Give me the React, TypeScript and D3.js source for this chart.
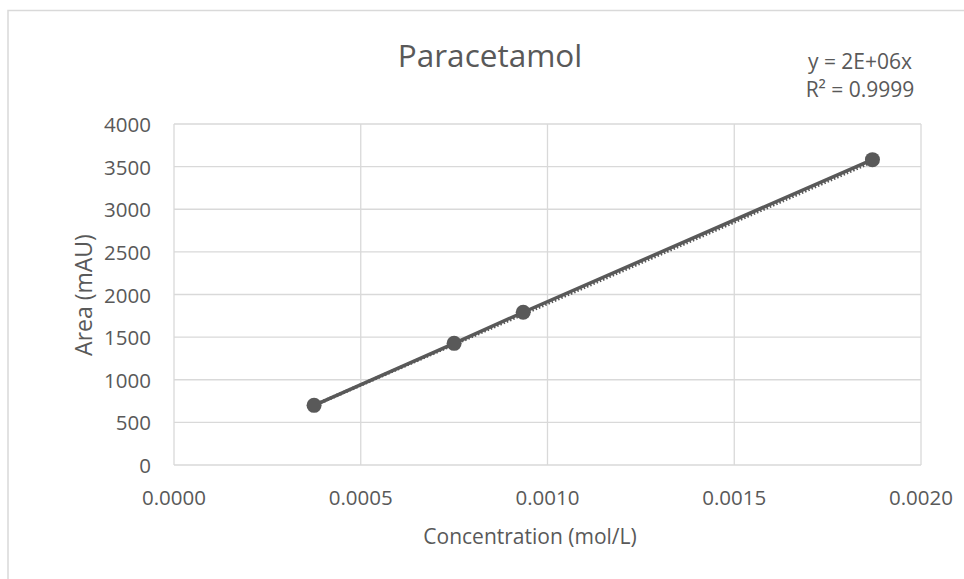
import React from "react";
import * as d3 from "d3";

const concentrations = [0.000375, 0.00075, 0.000935, 0.00187];
const areas = [700, 1427, 1792, 3582];
const xTicks = [0, 0.0005, 0.001, 0.0015, 0.002];
const yTicks = [0, 500, 1000, 1500, 2000, 2500, 3000, 3500, 4000];
const title = "Paracetamol";
const xTitle = "Concentration (mol/L)";
const yTitle = "Area (mAU)";
const eqLine1 = "y = 2E+06x";
const eqLine2 = "R² = 0.9999";

const W = 964;
const H = 579;
const font = "'Open Sans', sans-serif";
const textColor = "#595959";
const gridColor = "#d9d9d9";

export default function App() {
  const x = d3.scaleLinear().domain([0, 0.002]).range([174, 921]);
  const y = d3.scaleLinear().domain([0, 4000]).range([465, 124]);

  const pts = concentrations.map((c, i) => [c, areas[i]] as [number, number]);
  // least-squares slope through origin for the trendline
  const slope =
    d3.sum(pts, (p) => p[0] * p[1]) / d3.sum(pts, (p) => p[0] * p[0]);
  const xMin = d3.min(concentrations) as number;
  const xMax = d3.max(concentrations) as number;
  const trend: [number, number][] = [
    [xMin, slope * xMin],
    [xMax, slope * xMax],
  ];
  const line = d3
    .line<[number, number]>()
    .x((d) => x(d[0]))
    .y((d) => y(d[1]));

  return (
    <svg
      width={W}
      height={H}
      style={{ position: "absolute", left: 0, top: 0, background: "#fff" }}
      fontFamily={font}
    >
      <rect x={0} y={0} width={W} height={H} fill="#fff" />
      <rect
        x={8}
        y={10.5}
        width={1000}
        height={1000}
        fill="none"
        stroke={gridColor}
        strokeWidth={1.5}
      />
      {/* grid */}
      {yTicks.map((t) => (
        <line
          key={"gy" + t}
          x1={x(0)}
          x2={x(0.002)}
          y1={y(t)}
          y2={y(t)}
          stroke={gridColor}
          strokeWidth={1.3}
        />
      ))}
      {xTicks.map((t) => (
        <line
          key={"gx" + t}
          x1={x(t)}
          x2={x(t)}
          y1={y(0)}
          y2={y(4000)}
          stroke={gridColor}
          strokeWidth={1.3}
        />
      ))}
      {/* tick labels */}
      {yTicks.map((t) => (
        <text
          key={"ty" + t}
          x={151}
          y={y(t)}
          textAnchor="end"
          dominantBaseline="central"
          fontSize={20.5}
          fill={textColor}
        >
          {t}
        </text>
      ))}
      {xTicks.map((t) => (
        <text
          key={"tx" + t}
          x={x(t)}
          y={497}
          textAnchor="middle"
          dominantBaseline="central"
          fontSize={20.5}
          fill={textColor}
        >
          {d3.format(".4f")(t)}
        </text>
      ))}
      {/* axis titles */}
      <text
        x={530}
        y={536}
        textAnchor="middle"
        dominantBaseline="central"
        fontSize={21}
        fill={textColor}
      >
        {xTitle}
      </text>
      <text
        transform={`translate(83,295) rotate(-90)`}
        textAnchor="middle"
        dominantBaseline="central"
        fontSize={23}
        fill={textColor}
      >
        {yTitle}
      </text>
      {/* title */}
      <text
        x={490}
        y={54}
        textAnchor="middle"
        dominantBaseline="central"
        fontSize={31.5}
        fill={textColor}
      >
        {title}
      </text>
      {/* equation */}
      <text
        x={860}
        y={61}
        textAnchor="middle"
        dominantBaseline="central"
        fontSize={21}
        fill={textColor}
      >
        {eqLine1}
      </text>
      <text
        x={860}
        y={89}
        textAnchor="middle"
        dominantBaseline="central"
        fontSize={21}
        fill={textColor}
      >
        {eqLine2}
      </text>
      {/* trendline */}
      <path
        d={line(trend) || ""}
        fill="none"
        stroke="#595959"
        strokeWidth={3.5}
        strokeDasharray="1.5 2"
        transform="translate(0,1.5)"
      />
      {/* data line */}
      <path
        d={line(pts) || ""}
        fill="none"
        stroke="#595959"
        strokeWidth={3.5}
        strokeLinejoin="round"
      />
      {pts.map((p, i) => (
        <circle key={"p" + i} cx={x(p[0])} cy={y(p[1])} r={7.5} fill="#595959" />
      ))}
    </svg>
  );
}
